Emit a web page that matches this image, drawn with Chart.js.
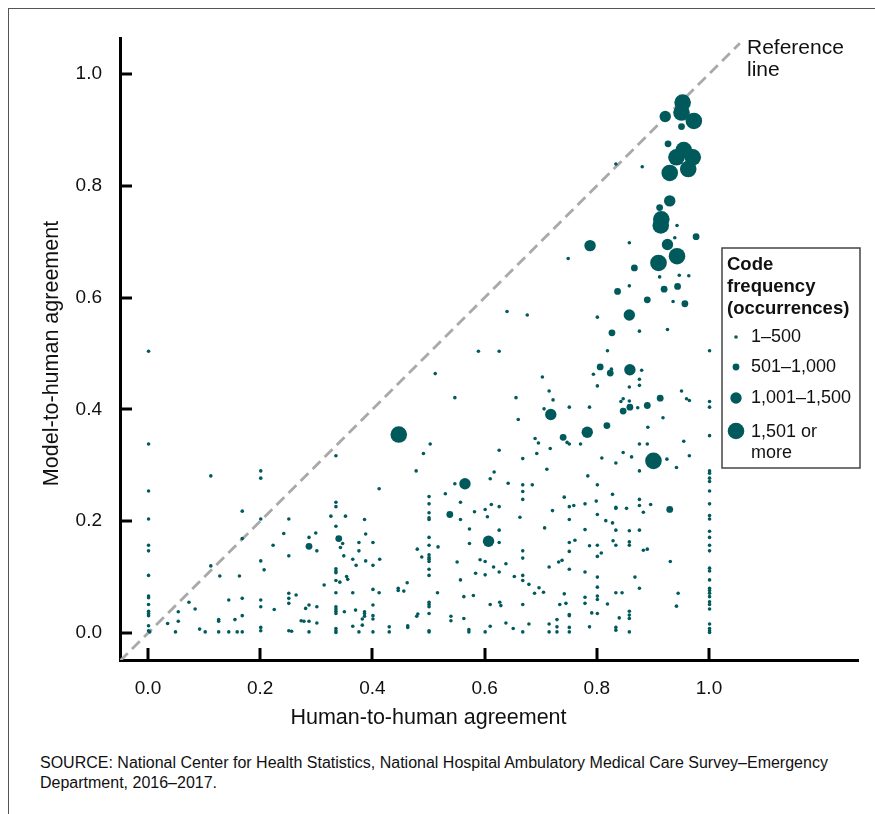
<!DOCTYPE html>
<html><head><meta charset="utf-8">
<script src="https://cdn.jsdelivr.net/npm/chart.js@4/dist/chart.umd.min.js"></script>
<style>
html,body{margin:0;padding:0;background:#fff;}
body{width:875px;height:814px;position:relative;overflow:hidden;font-family:"Liberation Sans",Arial,sans-serif;}
#frame{position:absolute;left:8px;top:8px;width:900px;height:900px;border-top:1.5px solid #555;border-left:1.5px solid #555;}
#wrap{position:absolute;left:0;top:0;width:875px;height:730px;}
#note{position:absolute;left:40px;top:753px;font-size:16px;line-height:20px;color:#111;white-space:nowrap;}
</style></head><body>
<div id="frame"></div>
<div id="wrap"><canvas id="c"></canvas></div>
<div id="note">SOURCE: National Center for Health Statistics, National Hospital Ambulatory Medical Care Survey–Emergency<br>Department, 2016–2017.</div>
<script>
// ---- data ----
const xTickValues = [0.0, 0.2, 0.4, 0.6, 0.8, 1.0];
const yTickValues = [0.0, 0.2, 0.4, 0.6, 0.8, 1.0];
const xTitle = "Human-to-human agreement";
const yTitle = "Model-to-human agreement";
const legendTitle = ["Code", "frequency", "(occurrences)"];
const legendLabels = [["1–500"], ["501–1,000"], ["1,001–1,500"], ["1,501 or", "more"]];
const refLabel = ["Reference", "line"];
const refLine = [[-0.05, -0.05], [1.055, 1.055]];

// 1–500 occurrences
const freq1 = [
[0.834,0.839],[0.881,0.834],[0.943,0.729],[0.939,0.707],[0.858,0.698],[0.912,0.637],[0.947,0.640],[0.964,0.639],[0.749,0.670],
[0.858,0.621],[0.936,0.593],[0.801,0.565],[0.876,0.540],[0.926,0.543],[0.819,0.505],[1.001,0.505],[0.826,0.472],[0.880,0.470],
[0.794,0.463],[0.876,0.454],[0.801,0.442],[0.858,0.440],[0.876,0.443],[0.951,0.433],[0.960,0.419],[0.965,0.416],[1.001,0.414],
[1.001,0.404],[0.847,0.419],[0.843,0.414],[0.858,0.415],[0.873,0.403],[0.751,0.404],[0.787,0.404],[0.918,0.385],[0.891,0.368],
[0.747,0.341],[0.751,0.338],[0.771,0.338],[0.876,0.338],[0.890,0.338],[0.955,0.343],[1.001,0.353],[0.847,0.323],[0.809,0.313],
[0.862,0.315],[0.834,0.304],[0.925,0.311],[0.965,0.317],[0.942,0.296],
[0.589,0.504],[0.626,0.504],[0.512,0.464],[0.703,0.458],[0.715,0.433],[0.547,0.421],[0.656,0.421],[0.722,0.417],[0.706,0.401],
[0.660,0.382],[0.690,0.348],[0.696,0.340],[0.503,0.338],[0.717,0.330],[0.626,0.327],[0.693,0.321],[0.668,0.312],[0.711,0.293],
[0.001,0.504],[0.001,0.338],[0.640,0.575],[0.676,0.569],[0.491,0.321],[0.335,0.317],[0.478,0.290],[0.617,0.288],[0.610,0.276],
[0.112,0.281],[0.201,0.290],[0.201,0.277],
[0.001,0.254],[0.001,0.204],[0.001,0.157],[0.001,0.147],[0.001,0.103],[0.001,0.066],[0.001,0.063],[0.001,0.051],[0.001,0.039],
[0.001,0.035],[0.001,0.031],[0.001,0.013],[0.001,0.004],[0.003,0.002],
[0.168,0.218],[0.201,0.204],[0.112,0.120],[0.128,0.102],[0.163,0.102],[0.168,0.169],[0.201,0.129],[0.207,0.113],[0.223,0.157],
[0.251,0.204],[0.242,0.178],[0.299,0.179],[0.287,0.171],[0.301,0.147],[0.251,0.138],[0.326,0.209],[0.352,0.209],[0.335,0.234],
[0.335,0.226],[0.335,0.191],[0.347,0.160],[0.343,0.153],[0.349,0.138],[0.335,0.115],[0.335,0.111],[0.335,0.108],[0.335,0.094],
[0.354,0.101],[0.356,0.096],[0.342,0.091],[0.314,0.086],[0.335,0.072],[0.335,0.047],[0.335,0.043],[0.335,0.039],[0.335,0.035],
[0.335,0.008],[0.335,0.004],[0.335,0.001],[0.350,0.038],[0.251,0.071],[0.251,0.062],[0.251,0.053],[0.264,0.068],[0.281,0.044],
[0.287,0.050],[0.301,0.047],[0.273,0.022],[0.278,0.021],[0.287,0.021],[0.301,0.018],[0.251,0.004],[0.256,0.003],[0.287,0.002],
[0.201,0.059],[0.201,0.047],[0.225,0.042],[0.201,0.010],[0.201,0.004],[0.168,0.062],[0.168,0.031],[0.155,0.024],[0.144,0.059],
[0.126,0.024],[0.126,0.021],[0.126,0.002],[0.144,0.002],[0.159,0.002],[0.168,0.002],[0.092,0.007],[0.102,0.002],[0.073,0.055],
[0.084,0.043],[0.054,0.038],[0.054,0.021],[0.035,0.017],[0.049,0.002],
[0.412,0.258],[0.386,0.203],[0.388,0.177],[0.376,0.162],[0.401,0.162],[0.376,0.147],[0.365,0.132],[0.388,0.129],[0.413,0.132],
[0.371,0.121],[0.401,0.121],[0.401,0.078],[0.365,0.072],[0.412,0.072],[0.446,0.080],[0.446,0.076],[0.456,0.075],[0.462,0.090],
[0.401,0.050],[0.370,0.041],[0.386,0.038],[0.386,0.035],[0.386,0.030],[0.382,0.025],[0.401,0.031],[0.401,0.025],[0.365,0.012],
[0.382,0.014],[0.376,0.002],[0.401,0.002],[0.430,0.002],[0.430,0.011],[0.463,0.013],[0.463,0.010],[0.479,0.030],[0.481,0.034],
[0.501,0.244],[0.501,0.231],[0.501,0.215],[0.501,0.206],[0.501,0.203],[0.501,0.171],[0.501,0.157],[0.501,0.140],[0.501,0.135],
[0.501,0.132],[0.501,0.128],[0.501,0.114],[0.501,0.103],[0.501,0.055],[0.501,0.051],[0.501,0.047],[0.501,0.035],[0.501,0.004],
[0.501,0.002],
[0.480,0.150],[0.488,0.136],[0.517,0.154],[0.516,0.072],[0.530,0.249],[0.547,0.267],[0.557,0.234],[0.557,0.203],[0.582,0.217],
[0.601,0.221],[0.605,0.208],[0.612,0.230],[0.626,0.226],[0.642,0.268],[0.668,0.265],[0.668,0.253],[0.668,0.239],[0.663,0.207],
[0.573,0.186],[0.573,0.160],[0.626,0.184],[0.626,0.162],[0.551,0.127],[0.592,0.131],[0.601,0.128],[0.638,0.124],[0.616,0.118],
[0.626,0.109],[0.584,0.107],[0.601,0.104],[0.653,0.101],[0.668,0.147],[0.668,0.134],[0.668,0.103],[0.668,0.094],[0.679,0.087],
[0.557,0.095],[0.563,0.065],[0.580,0.067],[0.610,0.051],[0.627,0.055],[0.629,0.049],[0.668,0.051],[0.540,0.030],[0.540,0.022],
[0.563,0.026],[0.572,0.006],[0.572,0.002],[0.601,0.002],[0.610,0.012],[0.638,0.018],[0.651,0.008],[0.668,0.002],[0.679,0.016],
[0.876,0.290],[0.784,0.281],[0.685,0.265],[0.801,0.265],[0.742,0.243],[0.751,0.226],[0.759,0.228],[0.779,0.231],[0.799,0.236],
[0.828,0.248],[0.834,0.225],[0.834,0.223],[0.853,0.223],[0.876,0.239],[0.876,0.228],[0.896,0.230],[0.883,0.216],[0.721,0.219],
[0.751,0.203],[0.801,0.212],[0.707,0.188],[0.779,0.185],[0.816,0.201],[0.828,0.197],[0.834,0.184],[0.858,0.183],[0.876,0.184],
[0.751,0.162],[0.761,0.166],[0.751,0.146],[0.787,0.156],[0.801,0.157],[0.801,0.137],[0.808,0.143],[0.829,0.165],[0.834,0.157],
[0.858,0.163],[0.858,0.157],[0.883,0.148],[0.890,0.150],[0.931,0.128],[0.715,0.118],[0.732,0.127],[0.738,0.130],[0.751,0.114],
[0.779,0.109],[0.697,0.081],[0.705,0.073],[0.689,0.071],[0.801,0.100],[0.801,0.082],[0.868,0.100],[0.876,0.080],[0.834,0.072],
[0.845,0.072],[0.742,0.070],[0.779,0.064],[0.779,0.053],[0.801,0.066],[0.801,0.060],[0.819,0.052],[0.745,0.053],[0.734,0.051],
[0.751,0.033],[0.751,0.031],[0.791,0.036],[0.801,0.035],[0.840,0.027],[0.858,0.039],[0.858,0.032],[0.858,0.026],[0.945,0.071],
[0.942,0.048],[0.715,0.016],[0.715,0.002],[0.729,0.024],[0.729,0.011],[0.729,0.002],[0.751,0.010],[0.751,0.002],[0.787,0.011],
[0.834,0.010],[0.834,0.005],[0.858,0.002],
[1.001,0.290],[1.001,0.286],[1.001,0.277],[1.001,0.271],[1.001,0.254],[1.001,0.231],[1.001,0.210],[1.001,0.204],[1.001,0.182],
[1.001,0.171],[1.001,0.157],[1.001,0.147],[1.001,0.116],[1.001,0.111],[1.001,0.095],[1.001,0.080],[1.001,0.076],[1.001,0.071],
[1.001,0.065],[1.001,0.056],[1.001,0.051],[1.001,0.043],[1.001,0.016],[1.001,0.008],[1.001,0.004],[1.001,0.001]
];
// 501–1,000 occurrences
const freq2 = [
[0.951,0.906],[0.927,0.875],[0.912,0.761],[0.977,0.709],[0.867,0.653],[0.837,0.611],[0.920,0.615],[0.944,0.620],[0.890,0.596],
[0.957,0.589],[0.827,0.537],[0.806,0.476],[0.824,0.465],[0.913,0.420],[0.859,0.404],[0.847,0.397],[0.890,0.407],[0.818,0.371],
[0.740,0.350],[0.930,0.221],[0.287,0.155],[0.340,0.169],[0.538,0.212]
];
// 1,001–1,500 occurrences
const freq3 = [
[0.922,0.924],[0.930,0.773],[0.926,0.695],[0.788,0.693],[0.858,0.569],[0.859,0.471],[0.783,0.359],[0.718,0.391],[0.565,0.267],
[0.607,0.164]
];
// 1,501 or more occurrences
const freq4 = [
[0.953,0.949],[0.951,0.931],[0.973,0.916],[0.955,0.864],[0.942,0.851],[0.971,0.851],[0.963,0.830],[0.930,0.823],[0.915,0.740],
[0.914,0.729],[0.943,0.674],[0.910,0.662],[0.447,0.355],[0.901,0.308]
];

// ---- styling ----
const TEAL = '#005a5c';
const RADII = [1.8, 3.4, 5.7, 8.3];
const FONT = '"Liberation Sans", Arial, sans-serif';
const toPts = a => a.map(p => ({x: p[0], y: p[1]}));

const overlay = {
  id: 'overlay',
  beforeDatasetsDraw(chart) {
    const {ctx, chartArea: a, scales: {x, y}} = chart;
    ctx.save();
    ctx.strokeStyle = '#000';
    ctx.lineWidth = 3;
    xTickValues.forEach(v => {
      const px = Math.round(x.getPixelForValue(v));
      ctx.beginPath(); ctx.moveTo(px, a.bottom); ctx.lineTo(px, a.bottom - 12); ctx.stroke();
    });
    yTickValues.forEach(v => {
      const py = Math.round(y.getPixelForValue(v));
      ctx.beginPath(); ctx.moveTo(a.left, py); ctx.lineTo(a.left + 12, py); ctx.stroke();
    });
    ctx.restore();
  },
  afterDraw(chart) {
    const {ctx, scales: {x, y}} = chart;
    ctx.save();
    ctx.fillStyle = '#111';
    ctx.textBaseline = 'middle';
    // axis titles, centred on the 0–1 range
    ctx.font = '21.5px ' + FONT;
    ctx.textAlign = 'center';
    const xc = (x.getPixelForValue(0) + x.getPixelForValue(1)) / 2;
    ctx.fillText(xTitle, xc, 718);
    const yc = (y.getPixelForValue(0) + y.getPixelForValue(1)) / 2;
    ctx.save();
    ctx.translate(52, yc);
    ctx.rotate(-Math.PI / 2);
    ctx.fillText(yTitle, 0, 0);
    ctx.restore();
    // reference line label
    ctx.textAlign = 'left';
    ctx.font = '21px ' + FONT;
    ctx.fillText(refLabel[0], 747, 48);
    ctx.fillText(refLabel[1], 747, 70);
    // legend box
    const bx = 722, by = 248, bw = 138, bh = 220;
    ctx.fillStyle = '#fff';
    ctx.fillRect(bx, by, bw, bh);
    ctx.strokeStyle = '#444';
    ctx.lineWidth = 1.5;
    ctx.strokeRect(bx, by, bw, bh);
    ctx.fillStyle = '#111';
    ctx.font = 'bold 18.5px ' + FONT;
    legendTitle.forEach((t, i) => ctx.fillText(t, bx + 5, 265 + i * 22));
    ctx.font = '18px ' + FONT;
    const rows = [337, 367, 398, 432];
    legendLabels.forEach((lines, i) => {
      ctx.fillStyle = TEAL;
      ctx.beginPath(); ctx.arc(736, rows[i] - (i === 3 ? 1 : 0), RADII[i], 0, Math.PI * 2); ctx.fill();
      ctx.fillStyle = '#111';
      lines.forEach((t, j) => ctx.fillText(t, 751, rows[i] + j * 21));
    });
    ctx.restore();
  }
};

const tickFont = {family: FONT, size: 19};

new Chart(document.getElementById('c'), {
  type: 'scatter',
  data: {
    datasets: [
      {data: toPts(freq1), pointRadius: RADII[0], backgroundColor: TEAL, borderWidth: 0},
      {data: toPts(freq2), pointRadius: RADII[1], backgroundColor: TEAL, borderWidth: 0},
      {data: toPts(freq3), pointRadius: RADII[2], backgroundColor: TEAL, borderWidth: 0},
      {data: toPts(freq4), pointRadius: RADII[3], backgroundColor: TEAL, borderWidth: 0},
      {type: 'line', data: toPts(refLine), borderColor: '#a9a9a9', borderWidth: 2.8, borderDash: [11, 6],
       pointRadius: 0, fill: false, order: 10}
    ]
  },
  options: {
    responsive: true, maintainAspectRatio: false, animation: false, events: [],
    layout: {padding: {left: 40, right: 17, top: 38, bottom: 0}},
    plugins: {legend: {display: false}, tooltip: {enabled: false}},
    scales: {
      x: {
        type: 'linear', min: -0.0499, max: 1.2656,
        grid: {display: false, drawTicks: false},
        border: {display: true, color: '#000', width: 3},
        afterBuildTicks: s => { s.ticks = xTickValues.map(v => ({value: v})); },
        afterFit: s => { s.height = 70; },
        ticks: {font: tickFont, color: '#111', padding: 17, callback: v => Number(v).toFixed(1)},
        title: {display: false}
      },
      y: {
        type: 'linear', min: -0.0483, max: 1.0644,
        grid: {display: false, drawTicks: false},
        border: {display: true, color: '#000', width: 3},
        afterBuildTicks: s => { s.ticks = yTickValues.map(v => ({value: v})); },
        afterFit: s => { s.width = 80; },
        ticks: {font: tickFont, color: '#111', padding: 18, callback: v => Number(v).toFixed(1)},
        title: {display: false}
      }
    }
  },
  plugins: [overlay]
});
</script>
</body></html>
